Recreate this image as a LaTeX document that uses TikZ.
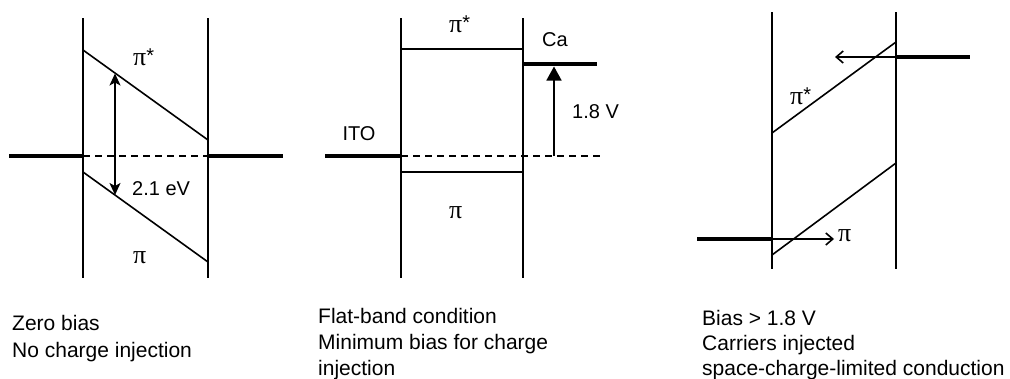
\documentclass[tikz,border=0pt]{standalone}
\usepackage{fontspec}
\setmainfont{Liberation Sans}
\newfontfamily\pifont{Liberation Serif}
\usetikzlibrary{arrows.meta}
\tikzset{
  bandline/.style={line width=1.6pt, line cap=butt},
  electrode/.style={line width=4.8pt, line cap=butt},
  fermi/.style={line width=1.5pt, dash pattern=on 7pt off 5pt},
  lbl/.style={inner sep=0pt, font=\fontsize{20}{24}\selectfont},
  captxt/.style={inner sep=0pt, anchor=base west, font=\fontsize{21}{27}\selectfont},
}
\newcommand{\pisym}{{\pifont\fontsize{26}{26}\selectfont π}}
\newcommand{\pistar}{\pisym\raisebox{3pt}{*}}
\begin{document}
\begin{tikzpicture}[x=1pt,y=-1pt]
\useasboundingbox (0,0) rectangle (1010,378);
% ---------- panel 1 ----------
\coordinate (a1) at (83,18);  \coordinate (a2) at (83,278);
\coordinate (b1) at (208,18); \coordinate (b2) at (208,278);
\coordinate (ua) at (83,50);  \coordinate (ub) at (208,140);
\coordinate (la) at (83,172); \coordinate (lb) at (208,262);
\coordinate (e1l) at (9,156); \coordinate (e1a) at (83,156);
\coordinate (e1b) at (208,156); \coordinate (e1r) at (283,156);
\coordinate (g1t) at (115,73.5); \coordinate (g1b) at (115,195);
\draw[bandline] (a1) -- (a2);
\draw[bandline] (b1) -- (b2);
\draw[bandline] (ua) -- (ub);
\draw[bandline] (la) -- (lb);
\draw[electrode] (e1l) -- (e1a);
\draw[electrode] (e1b) -- (e1r);
\draw[fermi] (e1a) -- (e1b);
\draw[bandline, {Stealth[length=12pt,width=11pt,inset=3pt]}-{Stealth[length=12pt,width=11pt,inset=3pt]}] (g1b) -- (g1t);
\node[lbl, anchor=base west] (p1s) at (133,65) {\pistar};
\node[lbl, anchor=base west] (p1) at (133,263) {\pisym};
\node[lbl, anchor=west] (gap) at (132,189) {2.1 eV};
\node[captxt] (c1a) at (12,330) {Zero bias};
\node[captxt] (c1b) at (12,357) {No charge injection};
% ---------- panel 2 ----------
\coordinate (a3) at (401,18);  \coordinate (a4) at (401,278);
\coordinate (b3) at (523,18);  \coordinate (b4) at (523,278);
\coordinate (ha) at (401,49);  \coordinate (hb) at (523,49);
\coordinate (ka) at (401,172); \coordinate (kb) at (523,172);
\coordinate (itol) at (325,156); \coordinate (itor) at (401,156);
\coordinate (fr) at (600,156);
\coordinate (cal) at (523,64); \coordinate (car) at (597,64);
\coordinate (vb) at (554,156); \coordinate (vt) at (554,66.5);
\draw[bandline] (a3) -- (a4);
\draw[bandline] (b3) -- (b4);
\draw[bandline] (ha) -- (hb);
\draw[bandline] (ka) -- (kb);
\draw[electrode] (itol) -- (itor);
\draw[electrode] (cal) -- (car);
\draw[fermi] (itor) -- (fr);
\draw[bandline, -{Triangle[length=14pt,width=15pt]}] (vb) -- (vt);
\node[lbl, anchor=base west] (p2s) at (449,32) {\pistar};
\node[lbl, anchor=base west] (p2) at (449,218) {\pisym};
\node[lbl] (ito) at (359,134) {ITO};
\node[lbl] (ca) at (555,40) {Ca};
\node[lbl, anchor=west] (v18) at (572,112) {1.8 V};
\node[captxt] (c2a) at (318,323) {Flat-band condition};
\node[captxt] (c2b) at (318,349) {Minimum bias for charge};
\node[captxt] (c2c) at (318,375) {injection};
% ---------- panel 3 ----------
\coordinate (a5) at (772,12);  \coordinate (a6) at (772,269);
\coordinate (b5) at (896,12);  \coordinate (b6) at (896,269);
\coordinate (sa) at (772,133); \coordinate (sb) at (896,42);
\coordinate (ta) at (772,255); \coordinate (tb) at (896,163);
\coordinate (rl) at (896,57); \coordinate (rr) at (970,57);
\coordinate (rt) at (835,57);
\coordinate (ll) at (697,239); \coordinate (lr) at (772,239);
\coordinate (lt) at (834,239);
\draw[bandline] (a5) -- (a6);
\draw[bandline] (b5) -- (b6);
\draw[bandline] (sa) -- (sb);
\draw[bandline] (ta) -- (tb);
\draw[electrode] (rl) -- (rr);
\draw[electrode] (ll) -- (lr);
\draw[bandline, -{Straight Barb[length=7pt,width=12pt]}] (rl) -- (rt);
\draw[bandline, -{Straight Barb[length=7pt,width=12pt]}] (lr) -- (lt);
\node[lbl, anchor=base west] (p3s) at (790,104) {\pistar};
\node[lbl, anchor=base west] (p3) at (838,241) {\pisym};
\node[captxt] (c3a) at (702,325) {Bias > 1.8 V};
\node[captxt] (c3b) at (702,350) {Carriers injected};
\node[captxt] (c3c) at (702,375) {space-charge-limited conduction};
\end{tikzpicture}
\end{document}
